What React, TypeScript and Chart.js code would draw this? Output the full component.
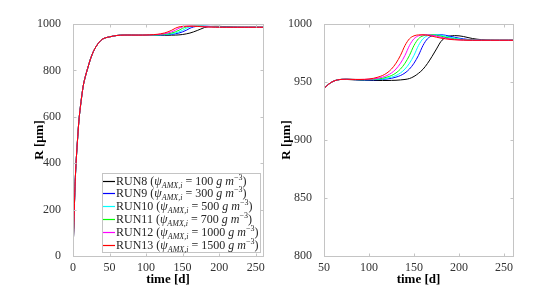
import React, { useEffect, useRef } from 'react';
import { Chart, registerables } from 'chart.js';

Chart.register(...registerables);

// ---------- data ----------
const timeDays = [
  0, 1, 2, 3, 4, 5, 6, 8, 10, 12, 14, 17, 20, 24, 28, 32, 36, 40, 45,
  50, 55, 60, 65, 70, 75, 80, 85, 90, 95, 100, 105, 110, 115, 120, 125, 130, 135, 140, 145,
  150, 155, 160, 165, 170, 175, 180, 185, 190, 195, 200, 205, 210, 215, 220, 225, 230, 235,
  240, 245, 250, 255, 260,
];

const run8 = [
  0, 115, 225, 320, 390, 444, 492, 580, 640, 690, 733, 775, 808, 850, 882, 905, 922, 934, 941,
  944.5, 948, 950.5, 951.8, 952.2, 952.2, 952.0, 951.8, 951.6, 951.5,
  951.4, 951.3, 951.3, 951.3, 951.3, 951.4, 951.5, 951.8, 952.2, 953, 954.8, 957.5, 961, 966, 972,
  978.5, 985, 988.3, 989.6, 990, 989.8, 989.2, 988.3, 987.5, 986.9, 986.5, 986.2, 986.1,
  986, 986, 986, 986, 986,
];
const run9 = [
  0, 115, 225, 320, 390, 444, 492, 580, 640, 690, 733, 775, 808, 850, 882, 905, 922, 934, 941,
  944.5, 948, 950.5, 951.8, 952.3, 952.4, 952.2, 952.0, 951.9, 951.8,
  951.8, 951.8, 952.0, 952.3, 952.6, 953.2, 954.2, 955.6, 957.8, 961.2, 966.2, 973, 981.5, 987.3,
  989.8, 990.6, 990.7, 990.3, 989.5, 988.6, 987.8, 987.2, 986.7, 986.4, 986.2, 986.1,
  986, 986, 986, 986, 986, 986, 986,
];
const run10 = [
  0, 115, 225, 320, 390, 444, 492, 580, 640, 690, 733, 775, 808, 850, 882, 905, 922, 934, 941,
  944.5, 948, 950.5, 951.8, 952.3, 952.4, 952.3, 952.1, 952.0, 952.0,
  952.0, 952.1, 952.3, 952.6, 953.2, 954.2, 955.6, 957.8, 961.2, 966.2, 973, 981.5, 987.3, 989.8,
  990.6, 990.7, 990.3, 989.5, 988.6, 987.8, 987.2, 986.7, 986.4, 986.2, 986.1,
  986, 986, 986, 986, 986, 986, 986, 986,
];
const run11 = [
  0, 115, 225, 320, 390, 444, 492, 580, 640, 690, 733, 775, 808, 850, 882, 905, 922, 934, 941,
  944.5, 948, 950.5, 951.8, 952.3, 952.4, 952.3, 952.2, 952.1, 952.1,
  952.2, 952.4, 952.6, 953.2, 954.2, 955.6, 957.8, 961.2, 966.2, 973, 981.5, 987.3, 989.8, 990.6,
  990.7, 990.3, 989.5, 988.6, 987.8, 987.2, 986.7, 986.4, 986.2, 986.1,
  986, 986, 986, 986, 986, 986, 986, 986, 986,
];
const run12 = [
  0, 115, 225, 320, 390, 444, 492, 580, 640, 690, 733, 775, 808, 850, 882, 905, 922, 934, 941,
  944.5, 948, 950.5, 951.8, 952.3, 952.4, 952.3, 952.2, 952.2, 952.2,
  952.4, 952.6, 953.2, 954.2, 955.6, 957.8, 961.2, 966.2, 973, 981.5, 987.3, 989.8, 990.6, 990.7,
  990.3, 989.5, 988.6, 987.8, 987.2, 986.7, 986.4, 986.2, 986.1,
  986, 986, 986, 986, 986, 986, 986, 986, 986, 986,
];
const run13 = [
  0, 115, 225, 320, 390, 444, 492, 580, 640, 690, 733, 775, 808, 850, 882, 905, 922, 934, 941,
  944.5, 948, 950.5, 951.8, 952.3, 952.4, 952.3, 952.2, 952.2, 952.3,
  952.6, 953.2, 954.2, 955.6, 957.8, 961.2, 966.2, 973, 981.5, 987.3, 989.8, 990.6, 990.7, 990.3,
  989.5, 988.6, 987.8, 987.2, 986.7, 986.4, 986.2, 986.1,
  986, 986, 986, 986, 986, 986, 986, 986, 986, 986, 986,
];

const runNames = ['RUN8', 'RUN9', 'RUN10', 'RUN11', 'RUN12', 'RUN13'];
const psiValues = [100, 300, 500, 700, 1000, 1500];
const runColors = ['#000000', '#0000ff', '#00ffff', '#00ff00', '#ff00ff', '#ff0000'];
const runSeries = [run8, run9, run10, run11, run12, run13];

const leftXTicks = [0, 50, 100, 150, 200, 250];
const leftYTicks = [0, 200, 400, 600, 800, 1000];
const rightXTicks = [50, 100, 150, 200, 250];
const rightYTicks = [800, 850, 900, 950, 1000];

const xTitle = 'time [d]';
const yTitle = 'R [\u03bcm]';

// ---------- styling ----------
const W = 549;
const H = 289;
const SERIF = '"Liberation Serif", "Times New Roman", serif';
const AXIS_COLOR = '#c4c4c4';
const TICK_COLOR = '#333333';

function makeDatasets() {
  const n = runSeries.length;
  return runSeries.map((vals, i) => ({
    label: `${runNames[i]} (\u03c8AMX,i = ${psiValues[i]} g m\u22123)`,
    data: vals.map((v, k) => ({ x: timeDays[k], y: v })),
    borderColor: runColors[i],
    backgroundColor: runColors[i],
    borderWidth: 1,
    pointRadius: 0,
    tension: 0,
    cubicInterpolationMode: 'monotone' as const,
    fill: false,
    order: n - 1 - i,
  }));
}

const framePlugin = {
  id: 'matlabFrame',
  afterDraw(chart: any) {
    const { ctx, chartArea: a, scales } = chart;
    ctx.save();
    ctx.strokeStyle = AXIS_COLOR;
    ctx.lineWidth = 1;
    const L = Math.round(a.left) + 0.5;
    const T = Math.round(a.top) + 0.5;
    const R = Math.round(a.right) + 0.5;
    const B = Math.round(a.bottom) + 0.5;
    ctx.strokeRect(L, T, R - L, B - T);
    const tl = 3;
    ctx.beginPath();
    scales.x.ticks.forEach((t: any) => {
      const x = Math.round(scales.x.getPixelForValue(t.value)) + 0.5;
      ctx.moveTo(x, B);
      ctx.lineTo(x, B - tl);
      ctx.moveTo(x, T);
      ctx.lineTo(x, T + tl);
    });
    scales.y.ticks.forEach((t: any) => {
      const y = Math.round(scales.y.getPixelForValue(t.value)) + 0.5;
      ctx.moveTo(L, y);
      ctx.lineTo(L + tl, y);
      ctx.moveTo(R, y);
      ctx.lineTo(R - tl, y);
    });
    ctx.stroke();
    ctx.restore();
  },
};

type Seg = { text: string; italic?: boolean; size: number; dy: number };

function legendSegments(i: number): Seg[] {
  return [
    { text: `${runNames[i]} (`, size: 12, dy: 0 },
    { text: '\u03c8', italic: true, size: 12, dy: 0 },
    { text: 'AMX,i', italic: true, size: 8, dy: 3 },
    { text: ` = ${psiValues[i]} `, size: 12, dy: 0 },
    { text: 'g', italic: true, size: 12, dy: 0 },
    { text: ' ', size: 12, dy: 0 },
    { text: 'm', italic: true, size: 12, dy: 0 },
    { text: '\u22123', size: 8, dy: -5 },
    { text: ')', size: 12, dy: 0 },
  ];
}

function segFont(s: Seg) {
  return `${s.italic ? 'italic ' : ''}${s.size}px ${SERIF}`;
}

const legendPlugin = {
  id: 'richLegend',
  afterDraw(chart: any) {
    const { ctx, chartArea: a } = chart;
    ctx.save();
    const rows = runNames.length;
    const rowH = 12.8;
    const lineLen = 12;
    let maxW = 0;
    for (let i = 0; i < rows; i++) {
      let w = 0;
      legendSegments(i).forEach((s) => {
        ctx.font = segFont(s);
        w += ctx.measureText(s.text).width;
      });
      maxW = Math.max(maxW, w);
    }
    const boxW = Math.round(1 + lineLen + 1 + maxW + 2);
    const boxH = Math.round(rowH * rows + 2);
    const right = Math.round(a.right) - 3;
    const bottom = Math.round(a.bottom) - 4;
    const left = right - boxW;
    const top = bottom - boxH;
    ctx.fillStyle = '#ffffff';
    ctx.fillRect(left, top, boxW, boxH);
    ctx.strokeStyle = AXIS_COLOR;
    ctx.lineWidth = 1;
    ctx.strokeRect(left + 0.5, top + 0.5, boxW, boxH);
    for (let i = 0; i < rows; i++) {
      const cy = top + 7.5 + rowH * i;
      ctx.strokeStyle = runColors[i];
      ctx.lineWidth = 1.2;
      ctx.beginPath();
      ctx.moveTo(left + 1, Math.round(cy) + 0.5);
      ctx.lineTo(left + 1 + lineLen, Math.round(cy) + 0.5);
      ctx.stroke();
      let x = left + 1 + lineLen + 1;
      const base = cy + 4;
      ctx.fillStyle = '#262626';
      ctx.textBaseline = 'alphabetic';
      ctx.textAlign = 'left';
      legendSegments(i).forEach((s) => {
        ctx.font = segFont(s);
        ctx.fillText(s.text, x, base + s.dy);
        x += ctx.measureText(s.text).width;
      });
    }
    ctx.restore();
  },
};

function makeConfig(
  xMin: number,
  xMax: number,
  yMin: number,
  yMax: number,
  xTicks: number[],
  yTicks: number[],
  padLeft: number,
  padRight: number,
  yWidth: number,
  yTitlePad: number,
  withLegend: boolean
): any {
  return {
    type: 'line',
    data: { datasets: makeDatasets() },
    options: {
      responsive: false,
      animation: false,
      parsing: false,
      normalized: true,
      layout: { padding: { left: padLeft, right: padRight, top: 24, bottom: 0 } },
      plugins: {
        legend: { display: false },
        tooltip: { enabled: false },
        title: { display: false },
      },
      scales: {
        x: {
          type: 'linear',
          min: xMin,
          max: xMax,
          afterBuildTicks: (scale: any) => {
            scale.ticks = xTicks.map((v) => ({ value: v }));
          },
          afterFit: (scale: any) => {
            scale.height = 33;
          },
          grid: { display: false },
          border: { display: false },
          ticks: {
            color: TICK_COLOR,
            font: { family: SERIF, size: 12 },
            padding: -3,
            maxRotation: 0,
            autoSkip: false,
            callback: (v: any) => String(v),
          },
          title: {
            display: true,
            text: xTitle,
            color: '#000000',
            font: { family: SERIF, size: 13, weight: 'bold' },
            padding: { top: 0, bottom: 2 },
          },
        },
        y: {
          type: 'linear',
          min: yMin,
          max: yMax,
          afterBuildTicks: (scale: any) => {
            scale.ticks = yTicks.map((v) => ({ value: v }));
          },
          afterFit: (scale: any) => {
            scale.width = yWidth;
          },
          grid: { display: false },
          border: { display: false },
          ticks: {
            color: TICK_COLOR,
            font: { family: SERIF, size: 12 },
            padding: 4,
            autoSkip: false,
            callback: (v: any) => String(v),
          },
          title: {
            display: true,
            text: yTitle,
            color: '#000000',
            font: { family: SERIF, size: 13, weight: 'bold' },
            padding: { top: yTitlePad, bottom: 0 },
          },
        },
      },
    },
    plugins: withLegend ? [framePlugin, legendPlugin] : [framePlugin],
  };
}

export default function App() {
  const leftRef = useRef<HTMLCanvasElement>(null);
  const rightRef = useRef<HTMLCanvasElement>(null);

  useEffect(() => {
    const charts: Chart[] = [];
    if (leftRef.current) {
      charts.push(
        new Chart(
          leftRef.current,
          makeConfig(0, 260, 0, 1000, leftXTicks, leftYTicks, 0, W - 263, 73, 32, true)
        )
      );
    }
    if (rightRef.current) {
      charts.push(
        new Chart(
          rightRef.current,
          makeConfig(50, 260, 800, 1000, rightXTicks, rightYTicks, 275, W - 513, 49, 4, false)
        )
      );
    }
    return () => charts.forEach((c) => c.destroy());
  }, []);

  const canvasStyle: React.CSSProperties = {
    position: 'absolute',
    left: 0,
    top: 0,
    width: W,
    height: H,
  };

  return (
    <div
      style={{
        position: 'fixed',
        left: 0,
        top: 0,
        width: W,
        height: H,
        background: '#ffffff',
        overflow: 'hidden',
      }}
    >
      <canvas ref={leftRef} width={W} height={H} style={canvasStyle} />
      <canvas ref={rightRef} width={W} height={H} style={canvasStyle} />
    </div>
  );
}
